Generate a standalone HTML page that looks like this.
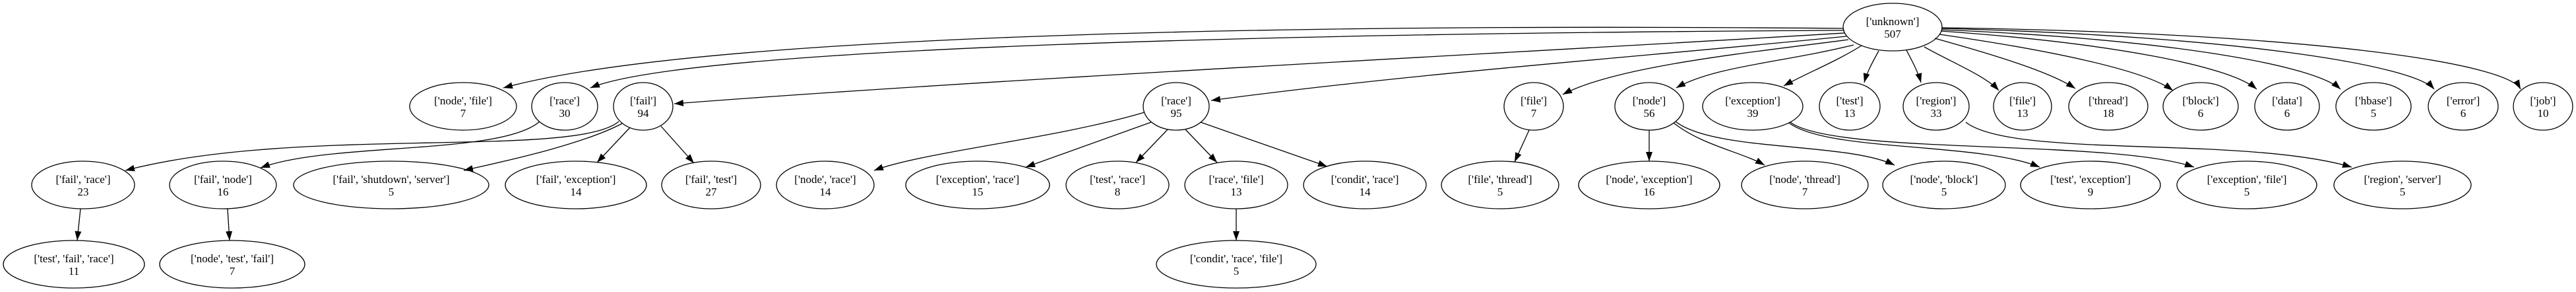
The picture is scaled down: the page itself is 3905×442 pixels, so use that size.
<!DOCTYPE html>
<html><head><meta charset="utf-8"><style>
html,body{margin:0;padding:0;background:#fff;}
svg{display:block;}
text{font-family:"Liberation Serif",serif;font-size:17px;fill:#000;text-anchor:middle;}
ellipse{fill:none;stroke:#000;stroke-width:1.3;}
</style></head><body>
<svg width="3905" height="442" viewBox="0 0 3905 442" xmlns="http://www.w3.org/2000/svg">
<defs><marker id="a" markerUnits="userSpaceOnUse" markerWidth="16" markerHeight="12" refX="14" refY="5" orient="auto"><path d="M0,0 L14,5 L0,10 Z" fill="#000"/></marker></defs>
<g fill="none" stroke="#000" stroke-width="1.3" marker-end="url(#a)">
<path d="M2795,43 C1900,35 1050,55 763,133"/>
<path d="M2796,46 C2000,50 1050,70 895,133"/>
<path d="M2796,50 C2300,80 1500,120 1022,157"/>
<path d="M2799,55 C2500,85 2150,110 1836,152"/>
<path d="M2802,60 C2650,80 2450,100 2369,143"/>
<path d="M2810,68 C2700,95 2600,100 2541,133"/>
<path d="M2822,69 C2780,95 2740,110 2704,130"/>
<path d="M2848,77 C2838,95 2830,110 2826,125"/>
<path d="M2890,76 C2900,95 2908,110 2912,125"/>
<path d="M2917,71 C2960,95 3010,115 3030,137"/>
<path d="M2933,58 C3030,85 3110,110 3146,134"/>
<path d="M2940,52 C3100,75 3250,105 3294,137"/>
<path d="M2942,47 C3200,65 3380,100 3421,135"/>
<path d="M2943,45 C3300,60 3510,100 3548,135"/>
<path d="M2943,43 C3400,55 3660,100 3690,135"/>
<path d="M2943,42 C3500,50 3800,95 3821,135"/>
<path d="M818,184 C760,235 500,215 395,254"/>
<path d="M938,184 C870,240 450,190 190,258"/>
<path d="M943,187 C880,220 760,245 703,258"/>
<path d="M955,193 L905,246"/>
<path d="M1002,191 L1052,247"/>
<path d="M1735,170 C1600,210 1400,230 1325,258"/>
<path d="M1745,185 L1555,253"/>
<path d="M1770,196 L1722,246"/>
<path d="M1797,196 L1845,246"/>
<path d="M1820,185 L2012,252"/>
<path d="M1874,316 L1874,364"/>
<path d="M2318,197 L2296,245"/>
<path d="M2500,197 L2500,244"/>
<path d="M2537,186 C2580,220 2640,230 2675,250"/>
<path d="M2540,184 C2600,230 2800,215 2872,250"/>
<path d="M2712,186 C2770,230 3000,215 3092,253"/>
<path d="M2714,185 C2780,235 3200,210 3326,253"/>
<path d="M2980,185 C3050,240 3400,205 3565,253"/>
<path d="M122,316 L117,364"/>
<path d="M345,316 L348,364"/>
</g>
<g>
<ellipse cx="2869" cy="41" rx="75" ry="36"/><text x="2869" y="38">['unknown']</text><text x="2869" y="57">507</text>
<ellipse cx="702" cy="161" rx="81" ry="36"/><text x="702" y="158">['node', 'file']</text><text x="702" y="177">7</text>
<ellipse cx="856" cy="161" rx="50" ry="36"/><text x="856" y="158">['race']</text><text x="856" y="177">30</text>
<ellipse cx="975" cy="161" rx="45" ry="36"/><text x="975" y="158">['fail']</text><text x="975" y="177">94</text>
<ellipse cx="1783" cy="161" rx="50" ry="36"/><text x="1783" y="158">['race']</text><text x="1783" y="177">95</text>
<ellipse cx="2325" cy="161" rx="45" ry="36"/><text x="2325" y="158">['file']</text><text x="2325" y="177">7</text>
<ellipse cx="2500" cy="161" rx="52" ry="36"/><text x="2500" y="158">['node']</text><text x="2500" y="177">56</text>
<ellipse cx="2657" cy="161" rx="76" ry="36"/><text x="2657" y="158">['exception']</text><text x="2657" y="177">39</text>
<ellipse cx="2804" cy="161" rx="46" ry="36"/><text x="2804" y="158">['test']</text><text x="2804" y="177">13</text>
<ellipse cx="2935" cy="161" rx="50" ry="36"/><text x="2935" y="158">['region']</text><text x="2935" y="177">33</text>
<ellipse cx="3066" cy="161" rx="44" ry="36"/><text x="3066" y="158">['file']</text><text x="3066" y="177">13</text>
<ellipse cx="3196" cy="161" rx="60" ry="36"/><text x="3196" y="158">['thread']</text><text x="3196" y="177">18</text>
<ellipse cx="3336" cy="161" rx="57" ry="36"/><text x="3336" y="158">['block']</text><text x="3336" y="177">6</text>
<ellipse cx="3467" cy="161" rx="49" ry="36"/><text x="3467" y="158">['data']</text><text x="3467" y="177">6</text>
<ellipse cx="3598" cy="161" rx="57" ry="36"/><text x="3598" y="158">['hbase']</text><text x="3598" y="177">5</text>
<ellipse cx="3734" cy="161" rx="53" ry="36"/><text x="3734" y="158">['error']</text><text x="3734" y="177">6</text>
<ellipse cx="3855" cy="161" rx="45" ry="36"/><text x="3855" y="158">['job']</text><text x="3855" y="177">10</text>
<ellipse cx="126" cy="280" rx="78" ry="36"/><text x="126" y="277">['fail', 'race']</text><text x="126" y="296">23</text>
<ellipse cx="338" cy="280" rx="81" ry="36"/><text x="338" y="277">['fail', 'node']</text><text x="338" y="296">16</text>
<ellipse cx="593" cy="280" rx="148" ry="36"/><text x="593" y="277">['fail', 'shutdown', 'server']</text><text x="593" y="296">5</text>
<ellipse cx="873" cy="280" rx="107" ry="36"/><text x="873" y="277">['fail', 'exception']</text><text x="873" y="296">14</text>
<ellipse cx="1078" cy="280" rx="75" ry="36"/><text x="1078" y="277">['fail', 'test']</text><text x="1078" y="296">27</text>
<ellipse cx="1251" cy="280" rx="74" ry="36"/><text x="1251" y="277">['node', 'race']</text><text x="1251" y="296">14</text>
<ellipse cx="1482" cy="280" rx="109" ry="36"/><text x="1482" y="277">['exception', 'race']</text><text x="1482" y="296">15</text>
<ellipse cx="1694" cy="280" rx="78" ry="36"/><text x="1694" y="277">['test', 'race']</text><text x="1694" y="296">8</text>
<ellipse cx="1874" cy="280" rx="78" ry="36"/><text x="1874" y="277">['race', 'file']</text><text x="1874" y="296">13</text>
<ellipse cx="2069" cy="280" rx="93" ry="36"/><text x="2069" y="277">['condit', 'race']</text><text x="2069" y="296">14</text>
<ellipse cx="2274" cy="280" rx="89" ry="36"/><text x="2274" y="277">['file', 'thread']</text><text x="2274" y="296">5</text>
<ellipse cx="2500" cy="280" rx="107" ry="36"/><text x="2500" y="277">['node', 'exception']</text><text x="2500" y="296">16</text>
<ellipse cx="2736" cy="280" rx="96" ry="36"/><text x="2736" y="277">['node', 'thread']</text><text x="2736" y="296">7</text>
<ellipse cx="2947" cy="280" rx="93" ry="36"/><text x="2947" y="277">['node', 'block']</text><text x="2947" y="296">5</text>
<ellipse cx="3169" cy="280" rx="106" ry="36"/><text x="3169" y="277">['test', 'exception']</text><text x="3169" y="296">9</text>
<ellipse cx="3406" cy="280" rx="106" ry="36"/><text x="3406" y="277">['exception', 'file']</text><text x="3406" y="296">5</text>
<ellipse cx="3642" cy="280" rx="104" ry="36"/><text x="3642" y="277">['region', 'server']</text><text x="3642" y="296">5</text>
<ellipse cx="112" cy="400" rx="107" ry="36"/><text x="112" y="397">['test', 'fail', 'race']</text><text x="112" y="416">11</text>
<ellipse cx="352" cy="400" rx="110" ry="36"/><text x="352" y="397">['node', 'test', 'fail']</text><text x="352" y="416">7</text>
<ellipse cx="1874" cy="400" rx="121" ry="36"/><text x="1874" y="397">['condit', 'race', 'file']</text><text x="1874" y="416">5</text>
</g>
</svg>
</body></html>
